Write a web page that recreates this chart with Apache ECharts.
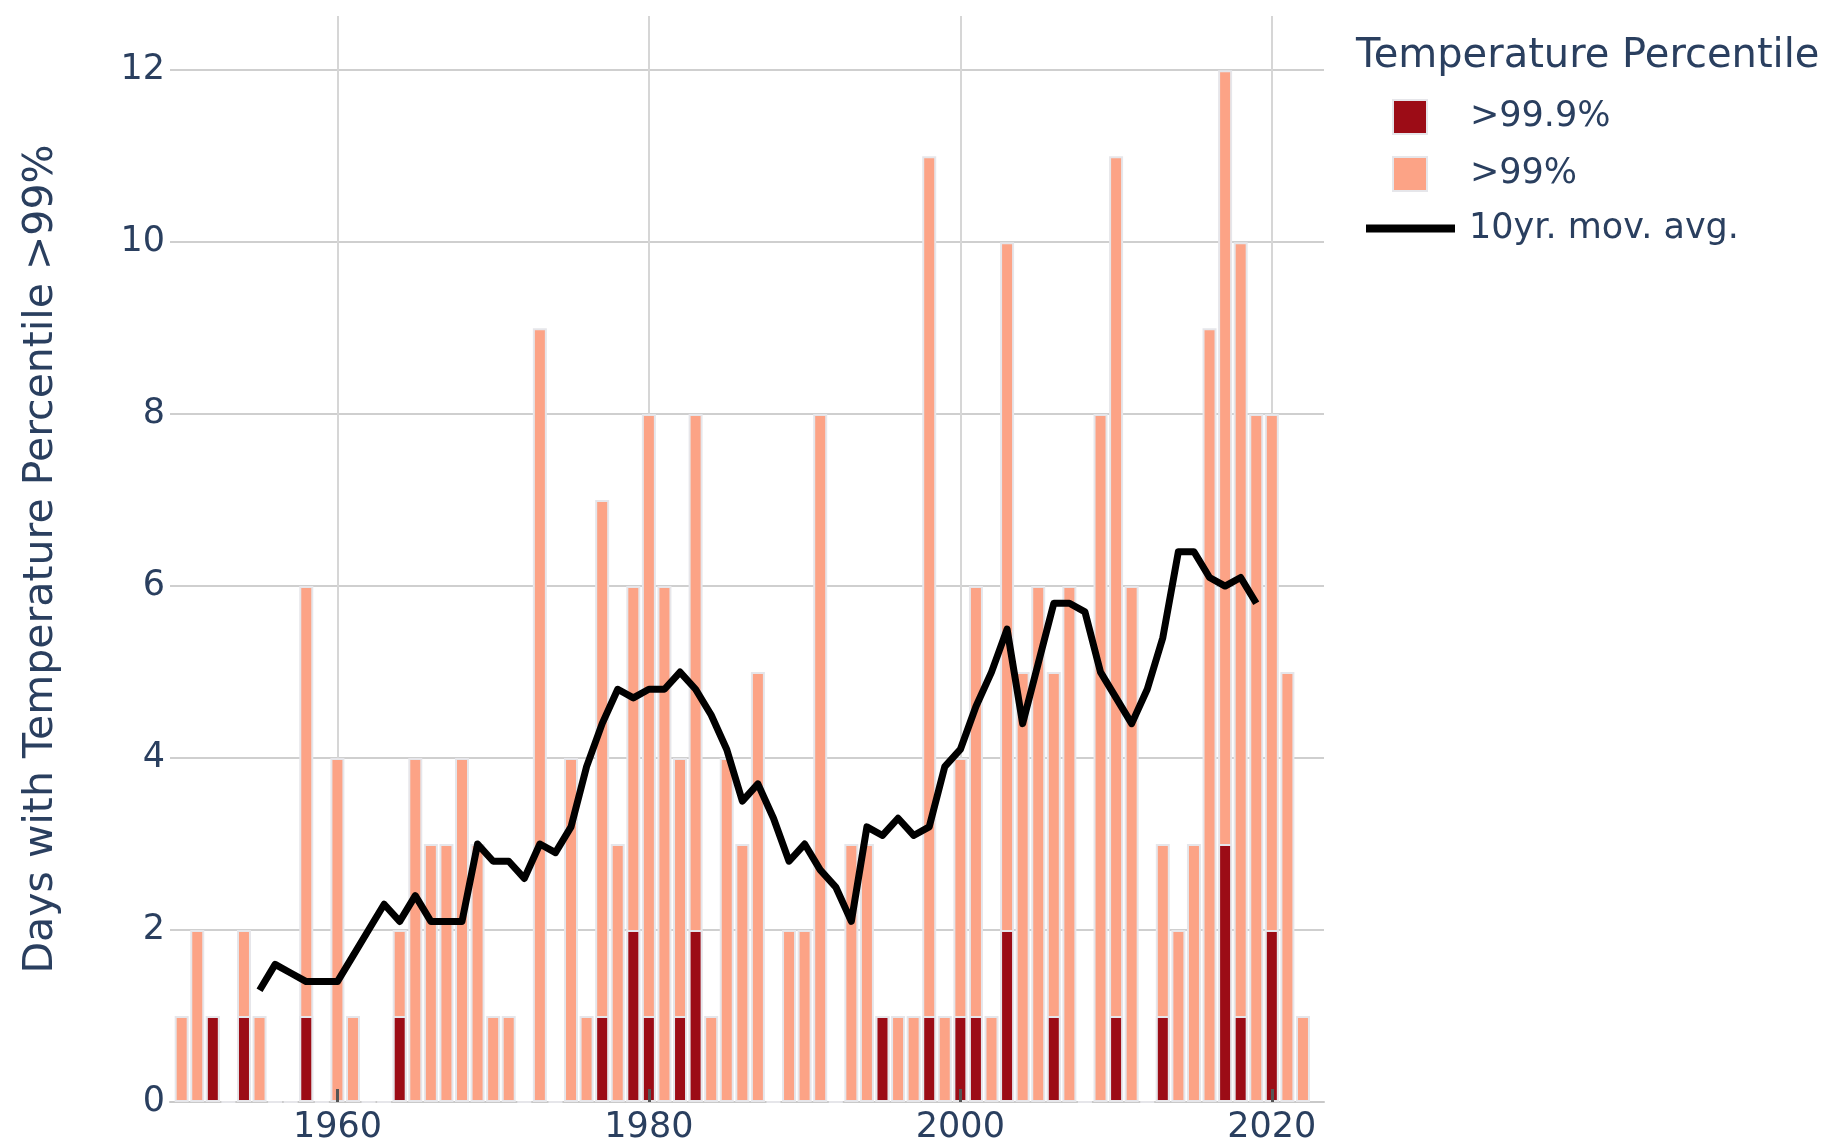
<!DOCTYPE html>
<html>
<head>
<meta charset="utf-8">
<script src="https://cdn.jsdelivr.net/npm/echarts@6/dist/echarts.min.js"></script>
<style>
  html, body { margin: 0; padding: 0; background: #fff; }
  #chart { width: 1842px; height: 1146px; }
</style>
</head>
<body>
<div id="chart"></div>
<script>
var years = [1950, 1951, 1952, 1953, 1954, 1955, 1956, 1957, 1958, 1959,
	1960, 1961, 1962, 1963, 1964, 1965, 1966, 1967, 1968, 1969,
	1970, 1971, 1972, 1973, 1974, 1975, 1976, 1977, 1978, 1979,
	1980, 1981, 1982, 1983, 1984, 1985, 1986, 1987, 1988, 1989,
	1990, 1991, 1992, 1993, 1994, 1995, 1996, 1997, 1998, 1999,
	2000, 2001, 2002, 2003, 2004, 2005, 2006, 2007, 2008, 2009,
	2010, 2011, 2012, 2013, 2014, 2015, 2016, 2017, 2018, 2019,
	2020, 2021, 2022];
// days above the 99th percentile
var days99 = [1, 2, 1, 0, 2, 1, 0, 0, 6, 0,
	4, 1, 0, 0, 2, 4, 3, 3, 4, 3,
	1, 1, 0, 9, 0, 4, 1, 7, 3, 6,
	8, 6, 4, 8, 1, 4, 3, 5, 0, 2,
	2, 8, 0, 3, 3, 1, 1, 1, 11, 1,
	4, 6, 1, 10, 5, 6, 5, 6, 0, 8,
	11, 6, 0, 3, 2, 3, 9, 12, 10, 8,
	8, 5, 1];
// days above the 99.9th percentile
var days999 = [0, 0, 1, 0, 1, 0, 0, 0, 1, 0,
	0, 0, 0, 0, 1, 0, 0, 0, 0, 0,
	0, 0, 0, 0, 0, 0, 0, 1, 0, 2,
	1, 0, 1, 2, 0, 0, 0, 0, 0, 0,
	0, 0, 0, 0, 0, 1, 0, 0, 1, 0,
	1, 1, 0, 2, 0, 0, 1, 0, 0, 0,
	1, 0, 0, 1, 0, 0, 0, 3, 1, 0,
	2, 0, 0];
var avgYears = [1955, 1956, 1957, 1958, 1959, 1960, 1961, 1962, 1963, 1964,
	1965, 1966, 1967, 1968, 1969, 1970, 1971, 1972, 1973, 1974,
	1975, 1976, 1977, 1978, 1979, 1980, 1981, 1982, 1983, 1984,
	1985, 1986, 1987, 1988, 1989, 1990, 1991, 1992, 1993, 1994,
	1995, 1996, 1997, 1998, 1999, 2000, 2001, 2002, 2003, 2004,
	2005, 2006, 2007, 2008, 2009, 2010, 2011, 2012, 2013, 2014,
	2015, 2016, 2017, 2018, 2019];
var movAvg = [1.3, 1.6, 1.5, 1.4, 1.4, 1.4, 1.7, 2.0, 2.3, 2.1,
	2.4, 2.1, 2.1, 2.1, 3.0, 2.8, 2.8, 2.6, 3.0, 2.9,
	3.2, 3.9, 4.4, 4.8, 4.7, 4.8, 4.8, 5.0, 4.8, 4.5,
	4.1, 3.5, 3.7, 3.3, 2.8, 3.0, 2.7, 2.5, 2.1, 3.2,
	3.1, 3.3, 3.1, 3.2, 3.9, 4.1, 4.6, 5.0, 5.5, 4.4,
	5.1, 5.8, 5.8, 5.7, 5.0, 4.7, 4.4, 4.8, 5.4, 6.4,
	6.4, 6.1, 6.0, 6.1, 5.8];
var xTicks = [1960, 1980, 2000, 2020];
var legendNames = ['>99.9%', '>99%', '10yr. mov. avg.'];

var fontFam = 'DejaVu Sans';
var txtColor = '#2a3f5f';

function pairs(xs, ys) {
	var out = [];
	for (var i = 0; i < xs.length; i++) {
		out.push([xs[i], ys[i]]);
	}
	return out;
}

var chart = echarts.init(document.getElementById('chart'));
var option = {
	animation: false,
	backgroundColor: '#fff',
	textStyle: { fontFamily: fontFam },
	title: {
		text: 'Temperature Percentile',
		left: 1351,
		top: 32,
		textStyle: { fontFamily: fontFam, fontSize: 40, fontWeight: 'normal', color: txtColor }
	},
	legend: [{
		data: [{ name: legendNames[0], icon: 'rect' }, { name: legendNames[1], icon: 'rect' }],
		orient: 'vertical',
		left: 1387,
		top: 94,
		itemWidth: 34,
		itemHeight: 34,
		itemGap: 21,
		textStyle: { fontFamily: fontFam, fontSize: 35, color: txtColor, padding: [0, 0, 0, 38] }
	}, {
		data: [{ name: legendNames[2], icon: 'rect' }],
		orient: 'vertical',
		left: 1361,
		top: 206,
		itemWidth: 89,
		itemHeight: 8,
		textStyle: { fontFamily: fontFam, fontSize: 35, color: txtColor, padding: [0, 0, 0, 9] }
	}],
	grid: { left: 170, right: 518, top: 16, bottom: 44 },
	xAxis: [{
		type: 'value',
		min: 1949.25,
		max: 2023.35,
		splitNumber: 4,
		axisLine: { show: true, lineStyle: { color: '#c9c9c9', width: 2 } },
		axisTick: { show: false, customValues: xTicks },
		axisLabel: {
			customValues: xTicks,
			fontSize: 35, color: txtColor, margin: 8,
			formatter: function (v) { return String(v); }
		},
		splitLine: { show: true, lineStyle: { color: '#d6d6d6', width: 2 } }
	}, {
		// inside tick marks drawn over the bars
		type: 'value',
		min: 1949.25,
		max: 2023.35,
		position: 'bottom',
		z: 10,
		axisLine: { show: false },
		axisTick: { show: true, inside: true, length: 13, customValues: xTicks, lineStyle: { color: '#555', width: 3 } },
		axisLabel: { show: false },
		splitLine: { show: false }
	}],
	yAxis: {
		type: 'value',
		min: 0,
		max: 12.63,
		interval: 2,
		name: 'Days with Temperature Percentile >99%',
		nameLocation: 'middle',
		nameGap: 108,
		nameTextStyle: { fontFamily: fontFam, fontSize: 41, color: txtColor },
		axisLine: { show: false },
		axisTick: { show: false },
		axisLabel: { fontSize: 35, color: txtColor, margin: 5, showMaxLabel: false },
		splitLine: { show: true, showMaxLine: false, lineStyle: { color: '#cfcfcf', width: 2 } }
	},
	series: [{
		name: legendNames[1],
		type: 'bar',
		xAxisIndex: 0,
		barWidth: 14,
		barGap: '-100%',
		itemStyle: { color: '#fca386', borderColor: '#e6e6ea', borderWidth: 2 },
		data: pairs(years, days99)
	}, {
		name: legendNames[0],
		type: 'bar',
		xAxisIndex: 0,
		barWidth: 14,
		barGap: '-100%',
		itemStyle: { color: '#9c0c16', borderColor: '#e6e6ea', borderWidth: 2 },
		data: pairs(years, days999).map(function (d) { return d[1] > 0 ? d : [d[0], '-']; })
	}, {
		name: legendNames[2],
		type: 'line',
		xAxisIndex: 0,
		showSymbol: false,
		symbol: 'none',
		z: 5,
		lineStyle: { color: '#000', width: 7, join: 'round' },
		itemStyle: { color: '#000' },
		data: pairs(avgYears, movAvg)
	}]
};
chart.setOption(option);
</script>
</body>
</html>
